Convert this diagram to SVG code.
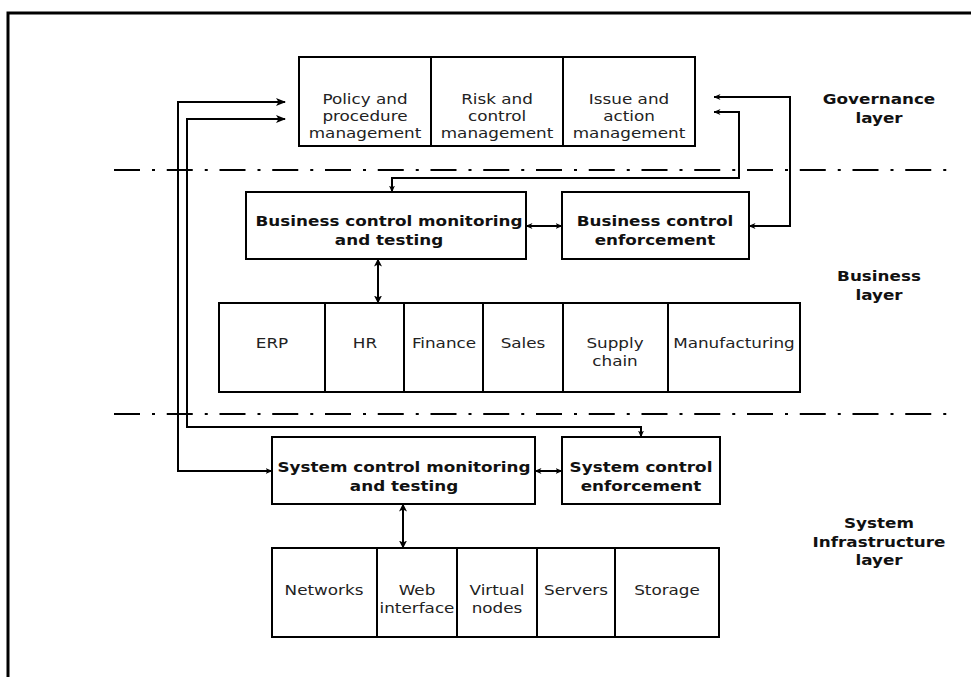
<svg xmlns="http://www.w3.org/2000/svg" width="971" height="677" viewBox="0 0 971 677">
<style>
.box{fill:#fff;stroke:#000;stroke-width:2}
.div{stroke:#000;stroke-width:2}
.t{font-family:"DejaVu Sans","Liberation Sans",sans-serif;font-size:14px;fill:#222;text-anchor:middle}
.b{font-family:"DejaVu Sans","Liberation Sans",sans-serif;font-size:14px;font-weight:bold;fill:#111;text-anchor:middle}
.c{fill:none;stroke:#000;stroke-width:2}
.dash{fill:none;stroke:#000;stroke-width:2;stroke-dasharray:26 12 3 11.75}
</style>
<defs>
<marker id="big" viewBox="0 0 10 8" refX="9" refY="4" markerWidth="10" markerHeight="8" markerUnits="userSpaceOnUse" orient="auto-start-reverse"><path d="M0,0 L10,4 L0,8 L2.5,4 z" fill="#000"/></marker>
<marker id="sm" viewBox="0 0 7 6" refX="6.5" refY="3" markerWidth="7" markerHeight="6" markerUnits="userSpaceOnUse" orient="auto-start-reverse"><path d="M0,0 L7,3 L0,6 L2,3 z" fill="#000"/></marker>
<marker id="md" viewBox="0 0 8 8" refX="7.5" refY="4" markerWidth="8" markerHeight="8" markerUnits="userSpaceOnUse" orient="auto-start-reverse"><path d="M0,0 L8,4 L0,8 L2,4 z" fill="#000"/></marker>
</defs>
<rect x="0" y="0" width="971" height="677" fill="#fff"/>
<path d="M8,677 V13 H971" fill="none" stroke="#000" stroke-width="3"/>

<g id="separators">
<line class="dash" x1="114" y1="170" x2="947" y2="170"/>
<line class="dash" x1="114" y1="414" x2="947" y2="414"/>
</g>

<g id="governance">
<rect class="box" x="299" y="57" width="396" height="89"/>
<line class="div" x1="431" y1="57" x2="431" y2="146"/>
<line class="div" x1="563" y1="57" x2="563" y2="146"/>
<text class="t" transform="translate(365,0) scale(1.2,1)"><tspan x="0" y="104">Policy and</tspan><tspan x="0" y="121">procedure</tspan><tspan x="0" y="138">management</tspan></text>
<text class="t" transform="translate(497,0) scale(1.2,1)"><tspan x="0" y="104">Risk and</tspan><tspan x="0" y="121">control</tspan><tspan x="0" y="138">management</tspan></text>
<text class="t" transform="translate(629,0) scale(1.2,1)"><tspan x="0" y="104">Issue and</tspan><tspan x="0" y="121">action</tspan><tspan x="0" y="138">management</tspan></text>
</g>

<g id="governance-label">
<text class="b" transform="translate(879,0) scale(1.2,1)"><tspan x="0" y="104">Governance</tspan><tspan x="0" y="123">layer</tspan></text>
</g>

<g id="business-monitoring">
<rect class="box" x="246" y="192" width="280" height="67"/>
<text class="b" transform="translate(389,0) scale(1.2,1)"><tspan x="0" y="226">Business control monitoring</tspan><tspan x="0" y="245">and testing</tspan></text>
</g>

<g id="business-enforcement">
<rect class="box" x="562" y="192" width="187" height="67"/>
<text class="b" transform="translate(655,0) scale(1.2,1)"><tspan x="0" y="226">Business control</tspan><tspan x="0" y="245">enforcement</tspan></text>
</g>

<g id="business-label">
<text class="b" transform="translate(879,0) scale(1.2,1)"><tspan x="0" y="281">Business</tspan><tspan x="0" y="300">layer</tspan></text>
</g>

<g id="business-apps">
<rect class="box" x="219" y="303" width="581" height="89"/>
<line class="div" x1="325" y1="303" x2="325" y2="392"/>
<line class="div" x1="404" y1="303" x2="404" y2="392"/>
<line class="div" x1="483" y1="303" x2="483" y2="392"/>
<line class="div" x1="563" y1="303" x2="563" y2="392"/>
<line class="div" x1="668" y1="303" x2="668" y2="392"/>
<text class="t" transform="translate(272,0) scale(1.2,1)"><tspan x="0" y="348">ERP</tspan></text>
<text class="t" transform="translate(365,0) scale(1.2,1)"><tspan x="0" y="348">HR</tspan></text>
<text class="t" transform="translate(444,0) scale(1.2,1)"><tspan x="0" y="348">Finance</tspan></text>
<text class="t" transform="translate(523,0) scale(1.2,1)"><tspan x="0" y="348">Sales</tspan></text>
<text class="t" transform="translate(615,0) scale(1.2,1)"><tspan x="0" y="348">Supply</tspan><tspan x="0" y="366">chain</tspan></text>
<text class="t" transform="translate(734,0) scale(1.2,1)"><tspan x="0" y="348">Manufacturing</tspan></text>
</g>

<g id="system-monitoring">
<rect class="box" x="272" y="437" width="263" height="67"/>
<text class="b" transform="translate(404,0) scale(1.2,1)"><tspan x="0" y="472">System control monitoring</tspan><tspan x="0" y="491">and testing</tspan></text>
</g>

<g id="system-enforcement">
<rect class="box" x="562" y="437" width="158" height="67"/>
<text class="b" transform="translate(641,0) scale(1.2,1)"><tspan x="0" y="472">System control</tspan><tspan x="0" y="491">enforcement</tspan></text>
</g>

<g id="system-label">
<text class="b" transform="translate(879,0) scale(1.2,1)"><tspan x="0" y="528">System</tspan><tspan x="0" y="547">Infrastructure</tspan><tspan x="0" y="565">layer</tspan></text>
</g>

<g id="infrastructure">
<rect class="box" x="272" y="548" width="447" height="89"/>
<line class="div" x1="377" y1="548" x2="377" y2="637"/>
<line class="div" x1="457" y1="548" x2="457" y2="637"/>
<line class="div" x1="537" y1="548" x2="537" y2="637"/>
<line class="div" x1="615" y1="548" x2="615" y2="637"/>
<text class="t" transform="translate(324,0) scale(1.2,1)"><tspan x="0" y="595">Networks</tspan></text>
<text class="t" transform="translate(417,0) scale(1.2,1)"><tspan x="0" y="595">Web</tspan><tspan x="0" y="613">interface</tspan></text>
<text class="t" transform="translate(497,0) scale(1.2,1)"><tspan x="0" y="595">Virtual</tspan><tspan x="0" y="613">nodes</tspan></text>
<text class="t" transform="translate(576,0) scale(1.2,1)"><tspan x="0" y="595">Servers</tspan></text>
<text class="t" transform="translate(667,0) scale(1.2,1)"><tspan x="0" y="595">Storage</tspan></text>
</g>

<g id="connectors">
<path class="c" d="M285,102 H178 V471 H272" marker-start="url(#big)" marker-end="url(#sm)"/>
<path class="c" d="M285,119 H187 V427 H641 V437" marker-start="url(#big)" marker-end="url(#sm)"/>
<path class="c" d="M714,97 H790 V226 H749" marker-start="url(#sm)" marker-end="url(#sm)"/>
<path class="c" d="M714,112 H739 V178 H392 V192" marker-start="url(#sm)" marker-end="url(#sm)"/>
<path class="c" d="M526,226 H562" marker-start="url(#sm)" marker-end="url(#sm)"/>
<path class="c" d="M535,471 H562" marker-start="url(#sm)" marker-end="url(#sm)"/>
<path class="c" d="M378,259 V303" marker-start="url(#md)" marker-end="url(#md)"/>
<path class="c" d="M403,504 V548" marker-start="url(#md)" marker-end="url(#md)"/>
</g>
</svg>
